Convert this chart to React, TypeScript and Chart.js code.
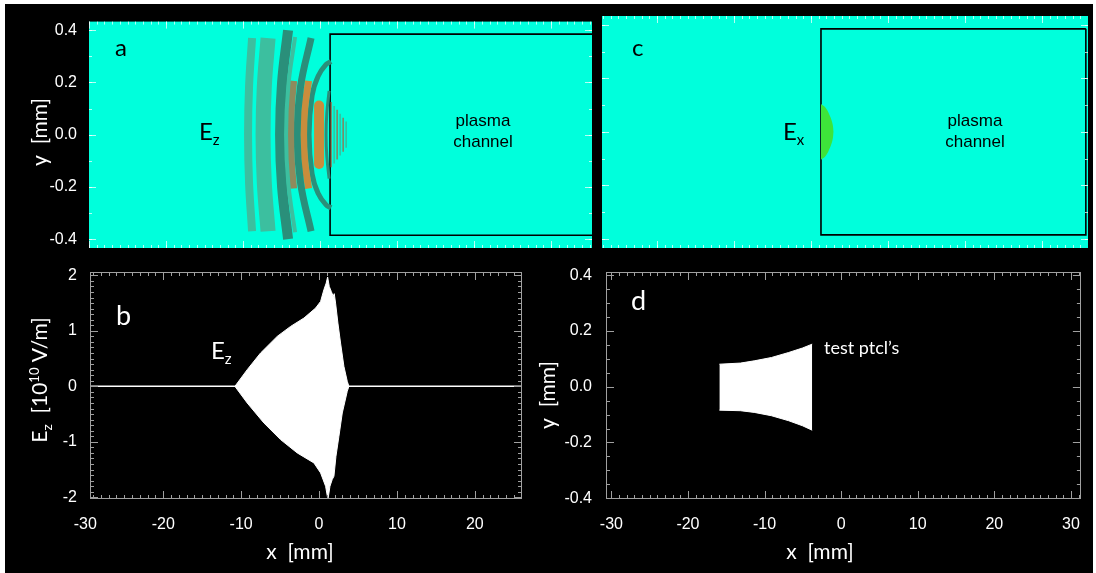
import React, { useEffect, useRef } from 'react';
import { Chart, registerables } from 'chart.js';

Chart.register(...registerables);

const W = 1096;
const H = 573;
const FONT_TICK = '"Liberation Sans", Arial, sans-serif';
const FONT_LABEL = 'Lato, "Open Sans", sans-serif';

// ---------- tick labels ----------
const fieldYTicks = [0.4, 0.2, 0, -0.2, -0.4];
const fieldYLabels = ['0.4', '0.2', '0.0', '-0.2', '-0.4'];
const mmXTicks = [-30, -20, -10, 0, 10, 20, 30];
const mmXLabels = ['-30', '-20', '-10', '0', '10', '20', '30'];
const ezYTicks = [2, 1, 0, -1, -2];
const ezYLabels = ['2', '1', '0', '-1', '-2'];

// ---------- plasma channel outline (mm) ----------
const channelX = [35.7, 1.3, 1.3, 35.7, 35.7];
const channelY = [0.385, 0.385, -0.385, -0.385, 0.385];

// ---------- panel a: Ez contour bands (mm) ----------
const CYAN = '#00ffdc';
const MED = '#3cbf9f';
const DARK = '#2a8f7a';
const BROWN = '#8f8a5c';
const ORANGE = '#c98d3c';
const DRED = '#8c1c0c';
const bandX: number[][] = [
  [-8.831, -9.221, -9.351, -9.221, -8.831],
  [-6.753, -7.24, -7.403, -7.24, -6.753],
  [-7.468, -7.565, -7.597, -7.565, -7.468],
  [-3.247, -4.123, -4.416, -4.123, -3.247],
  [-4.156, -4.935, -5.195, -4.935, -4.156],
  [-3.442, -3.734, -3.831, -3.734, -3.442],
  [-1.169, -2.532, -2.987, -2.532, -1.169],
  [-1.494, -1.981, -2.143, -1.981, -1.494],
  [1.429, 0.779, -0.26, -1.039, -1.429, -1.039, -0.26, 0.779, 1.429],
  [-0.13, -0.13],
  [-0.299, -0.299],
  [1.169, 0.877, 0.779, 0.877, 1.169],
];
const bandY: number[][] = [
  [0.37, 0.185, 0, -0.185, -0.37],
  [0.37, 0.185, 0, -0.185, -0.37],
  [0.187, 0.094, 0, -0.094, -0.187],
  [0.374, 0.187, 0, -0.187, -0.374],
  [0.4, 0.2, 0, -0.2, -0.4],
  [0.206, 0.103, 0, -0.103, -0.206],
  [0.37, 0.185, 0, -0.185, -0.37],
  [0.206, 0.103, 0, -0.103, -0.206],
  [0.28, 0.269, 0.224, 0.15, 0, -0.15, -0.224, -0.269, -0.28],
  [0.112, -0.112],
  [0.043, -0.043],
  [0.168, 0.084, 0, -0.084, -0.168],
];
const bandWidth = [8, 15, 3, 4, 10, 7, 7, 7, 5, 10, 2.5, 3];
const bandColor = [MED, MED, DARK, MED, DARK, BROWN, DARK, ORANGE, DARK, ORANGE, DRED, DARK];
const bandCap = ['butt', 'butt', 'butt', 'butt', 'butt', 'butt', 'butt', 'butt', 'butt', 'round', 'butt', 'butt'];
// fine stripes just inside the channel
const stripeX = [1.43, 1.82, 2.21, 2.6, 2.99, 3.38];
const stripeHalf = [0.125, 0.11, 0.095, 0.08, 0.065, 0.05];
const stripeColor = ['#a8603c', '#3fb08f', '#a8603c', '#3fb08f', '#a8603c', '#3fb08f'];

// ---------- panel c: Ex blob (mm) ----------
const exOuterX = [1.3, 1.9, 2.45, 2.8, 2.95];
const exOuterY = [0.104, 0.09, 0.06, 0.03, 0];
const exMidX = [1.3, 1.8, 2.3, 2.55];
const exMidY = [0.075, 0.065, 0.035, 0];
const exInnerX = [1.35, 1.75, 2.05, 2.2];
const exInnerY = [0.05, 0.043, 0.025, 0];

// ---------- panel b: Ez on axis (envelope, 1e10 V/m) ----------
const ezBaseX = [-29.4, 26.05];
const ezBaseY = [0, 0];
const ezUpperX = [-10.8, -9.22, -7.51, -5.37, -3.65, -1.94, -0.44, 0.2, 0.62, 0.92, 1.1, 1.31, 1.57, 1.82, 1.95, 2.12, 2.42, 2.76, 3.19, 3.62, 3.83];
const ezUpperY = [0, 0.3, 0.6, 0.9, 1.08, 1.23, 1.41, 1.53, 1.74, 1.86, 1.97, 1.8, 1.71, 1.62, 1.67, 1.5, 1.14, 0.78, 0.36, 0.09, 0];
const ezLowerX = [-10.8, -9.22, -7.08, -4.94, -2.8, -0.66, 0.2, 0.84, 1.14, 1.4, 1.69, 1.91, 2.17, 2.55, 2.98, 3.62, 3.83];
const ezLowerY = [0, -0.3, -0.66, -0.96, -1.2, -1.38, -1.56, -1.8, -2.04, -1.8, -1.68, -1.62, -1.26, -0.9, -0.48, -0.09, 0];

// ---------- panel d: test particles outline (mm) ----------
const ptUpperX = [-15.9, -13.15, -11.35, -9.1, -6.85, -5.05, -3.78];
const ptUpperY = [0.081, 0.085, 0.093, 0.105, 0.123, 0.139, 0.153];
const ptLowerX = [-15.9, -13.15, -11.35, -9.1, -6.85, -5.05, -3.78];
const ptLowerY = [-0.084, -0.086, -0.092, -0.104, -0.122, -0.14, -0.156];

// ---------- helpers ----------
function pts(xs: number[], ys: number[]) {
  return xs.map((x, i) => ({ x, y: ys[i] }));
}
function lineDs(xs: number[], ys: number[], color: string, width: number, extra: any = {}) {
  return {
    data: pts(xs, ys),
    borderColor: color,
    backgroundColor: color,
    borderWidth: width,
    pointRadius: 0,
    pointHoverRadius: 0,
    tension: 0,
    fill: false,
    ...extra,
  };
}

type Part = { t: string; size?: number; dy?: number };
type TextItem = { x: number; y: number; parts: Part[]; size: number; color: string; font: string; center?: boolean; rotate?: boolean };

function textPlugin(items: TextItem[]) {
  return {
    id: 'texts',
    afterDraw(chart: any) {
      const ctx = chart.ctx;
      items.forEach((it) => {
        ctx.save();
        ctx.translate(it.x, it.y);
        if (it.rotate) ctx.rotate(-Math.PI / 2);
        ctx.fillStyle = it.color;
        ctx.textBaseline = 'alphabetic';
        ctx.textAlign = 'left';
        const widths = it.parts.map((p) => {
          ctx.font = `${p.size ?? it.size}px ${it.font}`;
          return ctx.measureText(p.t).width;
        });
        const total = widths.reduce((a, b) => a + b, 0);
        let cx = it.center ? -total / 2 : 0;
        it.parts.forEach((p, i) => {
          ctx.font = `${p.size ?? it.size}px ${it.font}`;
          ctx.fillText(p.t, cx, p.dy ?? 0);
          cx += widths[i];
        });
        ctx.restore();
      });
    },
  };
}

type FrameOpts = {
  box: boolean;
  color: string;
  xMajor: number[];
  xMinorStep: number;
  yMajor: number[];
  yMinorStep: number;
  majorLen: number;
  minorLen: number;
};
function framePlugin(o: FrameOpts, bg?: string) {
  return {
    id: 'frame',
    beforeDatasetsDraw(chart: any) {
      if (!bg) return;
      const { ctx, chartArea: ca } = chart;
      ctx.save();
      ctx.fillStyle = bg;
      ctx.fillRect(ca.left, ca.top, ca.right - ca.left, ca.bottom - ca.top);
      ctx.restore();
    },
    afterDatasetsDraw(chart: any) {
      const { ctx, chartArea: ca, scales } = chart;
      const xs = scales.x;
      const ys = scales.y;
      ctx.save();
      ctx.strokeStyle = o.color;
      ctx.lineWidth = 1;
      const seg = (x1: number, y1: number, x2: number, y2: number) => {
        ctx.beginPath();
        ctx.moveTo(x1, y1);
        ctx.lineTo(x2, y2);
        ctx.stroke();
      };
      if (o.box) {
        ctx.strokeRect(Math.round(ca.left) + 0.5, Math.round(ca.top) + 0.5, Math.round(ca.right - ca.left) - 1, Math.round(ca.bottom - ca.top) - 1);
      }
      const tickX = (v: number, len: number) => {
        const p = Math.round(xs.getPixelForValue(v)) + 0.5;
        if (p < ca.left || p > ca.right) return;
        seg(p, ca.bottom, p, ca.bottom - len);
        seg(p, ca.top, p, ca.top + len);
      };
      const tickY = (v: number, len: number) => {
        const p = Math.round(ys.getPixelForValue(v)) + 0.5;
        if (p < ca.top || p > ca.bottom) return;
        seg(ca.left, p, ca.left + len, p);
        seg(ca.right, p, ca.right - len, p);
      };
      const nx = Math.floor((xs.max - xs.min) / o.xMinorStep) + 2;
      const x0 = Math.ceil(xs.min / o.xMinorStep) * o.xMinorStep;
      for (let i = 0; i < nx; i++) tickX(x0 + i * o.xMinorStep, o.minorLen);
      o.xMajor.forEach((v) => tickX(v, o.majorLen));
      const ny = Math.floor((ys.max - ys.min) / o.yMinorStep) + 2;
      const y0 = Math.ceil(ys.min / o.yMinorStep) * o.yMinorStep;
      for (let i = 0; i < ny; i++) tickY(y0 + i * o.yMinorStep, o.minorLen);
      o.yMajor.forEach((v) => tickY(v, o.majorLen));
      ctx.restore();
    },
  };
}

type AxisCfg = {
  min: number;
  max: number;
  show: boolean;
  ticks?: number[];
  labels?: string[];
  pad?: number;
  size?: number;
};
function axis(c: AxisCfg, horizontal: boolean) {
  return {
    type: 'linear',
    min: c.min,
    max: c.max,
    display: c.show,
    grid: { display: false, drawTicks: false },
    border: { display: false },
    afterBuildTicks: (s: any) => {
      if (c.ticks) s.ticks = c.ticks.map((v) => ({ value: v }));
    },
    afterFit: (s: any) => {
      if (c.size !== undefined) {
        if (horizontal) s.height = c.size;
        else s.width = c.size;
      }
    },
    ticks: {
      color: '#ffffff',
      font: { family: FONT_TICK, size: 16 },
      padding: c.pad ?? 0,
      autoSkip: false,
      maxRotation: 0,
      minRotation: 0,
      callback: (_v: any, i: number) => (c.labels ? c.labels[i] : ''),
    },
  };
}

function makeConfig(datasets: any[], x: AxisCfg, y: AxisCfg, padding: any, plugins: any[]) {
  return {
    type: 'line',
    data: { datasets },
    options: {
      responsive: false,
      maintainAspectRatio: false,
      animation: false,
      events: [],
      layout: { padding },
      plugins: { legend: { display: false }, tooltip: { enabled: false }, title: { display: false } },
      scales: { x: axis(x, true), y: axis(y, false) },
    },
    plugins,
  };
}

function label(x: number, y: number, t: string, size: number, color: string, extra: Partial<TextItem> = {}): TextItem {
  return { x, y, parts: [{ t }], size, color, font: FONT_LABEL, ...extra };
}

// ---------- chart builders ----------
function configA() {
  const ds: any[] = [];
  bandX.forEach((xs, i) =>
    ds.push(lineDs(xs, bandY[i], bandColor[i], bandWidth[i], { tension: 0.4, borderCapStyle: bandCap[i] }))
  );
  stripeX.forEach((x, i) => ds.push(lineDs([x, x], [stripeHalf[i], -stripeHalf[i]], stripeColor[i], 1.2)));
  ds.push(lineDs(channelX, channelY, '#000000', 1.6));
  const texts: TextItem[] = [
    label(115, 56, 'a', 24, '#000'),
    { x: 199, y: 140, parts: [{ t: 'E' }, { t: 'z', size: 15, dy: 5 }], size: 24, color: '#000', font: FONT_LABEL },
    { x: 483, y: 126, parts: [{ t: 'plasma' }], size: 17, color: '#000', font: FONT_TICK, center: true },
    { x: 483, y: 147, parts: [{ t: 'channel' }], size: 17, color: '#000', font: FONT_TICK, center: true },
    label(47, 132, 'y  [mm]', 21, '#fff', { rotate: true, center: true }),
  ];
  return makeConfig(
    ds,
    { min: -30, max: 35.3, show: false },
    { min: -0.434, max: 0.433, show: true, ticks: fieldYTicks, labels: fieldYLabels, pad: 12, size: 89 },
    { left: 0, top: 16, right: W - 592, bottom: H - 248 },
    [
      framePlugin(
        { box: false, color: 'rgba(255,255,255,0.7)', xMajor: [-30, -20, -10, 0, 10, 20, 30], xMinorStep: 1, yMajor: fieldYTicks, yMinorStep: 0.1, majorLen: 7, minorLen: 3 },
        CYAN
      ),
      textPlugin(texts),
    ]
  );
}

function configC() {
  const neg = (a: number[]) => a.map((v) => -v);
  const ds: any[] = [
    lineDs(exOuterX, exOuterY, '#3ee43a', 0, { fill: '+1', tension: 0.4 }),
    lineDs(exOuterX, neg(exOuterY), '#3ee43a', 0, { tension: 0.4 }),
    lineDs(exMidX, exMidY, '#a6f83a', 0, { fill: '+1', tension: 0.4 }),
    lineDs(exMidX, neg(exMidY), '#a6f83a', 0, { tension: 0.4 }),
    lineDs(exInnerX, exInnerY, '#f2ff1a', 0, { fill: '+1', tension: 0.4 }),
    lineDs(exInnerX, neg(exInnerY), '#f2ff1a', 0, { tension: 0.4 }),
    lineDs(channelX, channelY, '#000000', 1.6),
  ];
  const texts: TextItem[] = [
    label(632, 56, 'c', 24, '#000'),
    { x: 783, y: 140, parts: [{ t: 'E' }, { t: 'x', size: 15, dy: 5 }], size: 24, color: '#000', font: FONT_LABEL },
    { x: 975, y: 126, parts: [{ t: 'plasma' }], size: 17, color: '#000', font: FONT_TICK, center: true },
    { x: 975, y: 147, parts: [{ t: 'channel' }], size: 17, color: '#000', font: FONT_TICK, center: true },
  ];
  return makeConfig(
    ds,
    { min: -27.14, max: 35.98, show: false },
    { min: -0.434, max: 0.433, show: false },
    { left: 602, top: 16, right: W - 1088, bottom: H - 248 },
    [
      framePlugin(
        { box: false, color: 'rgba(255,255,255,0.7)', xMajor: [-20, -10, 0, 10, 20, 30], xMinorStep: 1, yMajor: fieldYTicks, yMinorStep: 0.1, majorLen: 7, minorLen: 3 },
        CYAN
      ),
      textPlugin(texts),
    ]
  );
}

function configB() {
  const ds: any[] = [
    lineDs(ezBaseX, ezBaseY, '#ffffff', 1.5),
    lineDs(ezUpperX, ezUpperY, '#ffffff', 1, { fill: 'origin' }),
    lineDs(ezLowerX, ezLowerY, '#ffffff', 1, { fill: 'origin' }),
  ];
  const texts: TextItem[] = [
    label(116, 325, 'b', 27, '#fff'),
    { x: 211, y: 359, parts: [{ t: 'E' }, { t: 'z', size: 15, dy: 5 }], size: 24, color: '#fff', font: FONT_LABEL },
    label(300, 559, 'x  [mm]', 21, '#fff', { center: true }),
    {
      x: 47,
      y: 380,
      parts: [{ t: 'E' }, { t: 'z', size: 14, dy: 5 }, { t: '  [10' }, { t: '10', size: 13, dy: -8 }, { t: ' V/m]' }],
      size: 21,
      color: '#fff',
      font: FONT_LABEL,
      rotate: true,
      center: true,
    },
  ];
  return makeConfig(
    ds,
    { min: -29.4, max: 26.05, show: true, ticks: mmXTicks.slice(0, 6), labels: mmXLabels.slice(0, 6), pad: 16, size: H - 499 },
    { min: -2.03, max: 2.06, show: true, ticks: ezYTicks, labels: ezYLabels, pad: 13, size: 90 },
    { left: 0, top: 272, right: W - 522, bottom: 0 },
    [
      framePlugin({ box: true, color: '#a0a0a0', xMajor: mmXTicks, xMinorStep: 1, yMajor: ezYTicks, yMinorStep: 0.1, majorLen: 8, minorLen: 4 }),
      textPlugin(texts),
    ]
  );
}

function configD() {
  const ds: any[] = [
    lineDs(ptUpperX, ptUpperY, '#ffffff', 1, { fill: '+1' }),
    lineDs(ptLowerX, ptLowerY, '#ffffff', 1),
  ];
  const texts: TextItem[] = [
    label(631, 310, 'd', 27, '#fff'),
    label(824, 354, 'test ptcl\u2019s', 18, '#fff'),
    label(820, 559, 'x  [mm]', 21, '#fff', { center: true }),
    label(555, 395, 'y  [mm]', 21, '#fff', { rotate: true, center: true }),
  ];
  return makeConfig(
    ds,
    { min: -30.7, max: 31.3, show: true, ticks: mmXTicks, labels: mmXLabels, pad: 16, size: H - 499 },
    { min: -0.403, max: 0.412, show: true, ticks: fieldYTicks, labels: fieldYLabels, pad: 14, size: 60 },
    { left: 546, top: 272, right: W - 1088, bottom: 0 },
    [
      framePlugin({ box: true, color: '#a0a0a0', xMajor: mmXTicks, xMinorStep: 1, yMajor: fieldYTicks, yMinorStep: 0.05, majorLen: 8, minorLen: 4 }),
      textPlugin(texts),
    ]
  );
}

export default function App() {
  const refA = useRef<HTMLCanvasElement>(null);
  const refB = useRef<HTMLCanvasElement>(null);
  const refC = useRef<HTMLCanvasElement>(null);
  const refD = useRef<HTMLCanvasElement>(null);

  useEffect(() => {
    document.body.style.margin = '0';
    const charts: Chart[] = [];
    const pairs: [React.RefObject<HTMLCanvasElement>, () => any][] = [
      [refA, configA],
      [refC, configC],
      [refB, configB],
      [refD, configD],
    ];
    pairs.forEach(([r, f]) => {
      if (r.current) charts.push(new Chart(r.current, f() as any));
    });
    return () => charts.forEach((c) => c.destroy());
  }, []);

  const canvasStyle: React.CSSProperties = { position: 'absolute', left: 0, top: 0, width: W, height: H };
  return (
    <div style={{ position: 'fixed', left: 0, top: 0, width: W, height: H, background: '#ffffff', overflow: 'hidden' }}>
      <div style={{ position: 'absolute', left: 5, top: 4, right: 3, bottom: 0, background: '#000000' }} />
      <canvas ref={refA} width={W} height={H} style={canvasStyle} />
      <canvas ref={refC} width={W} height={H} style={canvasStyle} />
      <canvas ref={refB} width={W} height={H} style={canvasStyle} />
      <canvas ref={refD} width={W} height={H} style={canvasStyle} />
    </div>
  );
}
